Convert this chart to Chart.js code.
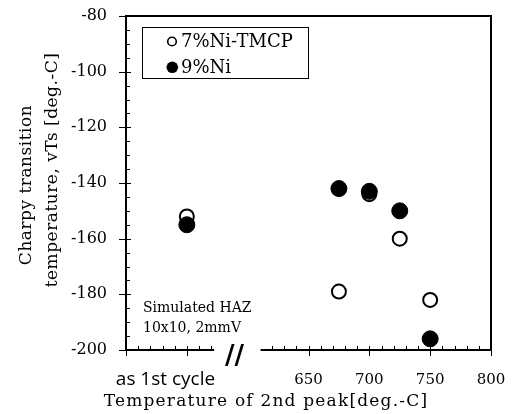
<!DOCTYPE html>
<html>
<head>
<meta charset="utf-8">
<title>vTs vs 2nd peak temperature</title>
<script src="https://cdn.jsdelivr.net/npm/chart.js@4.4.0/dist/chart.umd.min.js"></script>
<style>
  html, body { margin: 0; padding: 0; background: #fff; }
  canvas { display: block; }
</style>
</head>
<body>
<canvas id="vts-chart" width="515" height="414"></canvas>
<script>
// 2nd peak temperature [deg.C]; 550 is the slot used for "as 1st cycle"
var peakTemps = [550, 675, 700, 725, 750];
var vTs7NiTMCP = [-152, -179, -144, -160, -182];
var vTs9Ni = [-155, -142, -143, -150, -196];

var seriesNames = ['7%Ni-TMCP', '9%Ni'];
var xTickLabels = [650, 700, 750, 800];
var firstCycleLabel = 'as 1st cycle';
var yTitleLines = ['Charpy transition', 'temperature, vTs [deg.-C]'];
var xTitle = 'Temperature of 2nd peak[deg.-C]';
var noteLines = ['Simulated HAZ', '10x10, 2mmV'];

// the x axis is cut between these two values
var breakFrom = 572.5;
var breakTo = 610.6;

var SERIF = "'DejaVu Serif', serif";

function putText(ctx, text, x, y, font, align, spacing) {
	ctx.font = font;
	ctx.letterSpacing = (spacing || 0) + 'px';
	ctx.textAlign = align || 'left';
	ctx.textBaseline = 'alphabetic';
	ctx.fillText(text, x, y);
}

// frame, broken x axis and tick marks
var axesFrame = {
	id: 'axesFrame',
	beforeDatasetsDraw: function(chart) {
		var ctx = chart.ctx;
		var a = chart.chartArea;
		var x = chart.scales.x;
		var y = chart.scales.y;
		var b1 = x.getPixelForValue(breakFrom);
		var b2 = x.getPixelForValue(breakTo);

		ctx.save();
		ctx.strokeStyle = '#000';
		ctx.lineWidth = 2;
		ctx.beginPath();
		ctx.moveTo(a.left, a.bottom);
		ctx.lineTo(a.left, a.top);
		ctx.lineTo(a.right, a.top);
		ctx.lineTo(a.right, a.bottom);
		ctx.moveTo(a.left, a.bottom);
		ctx.lineTo(b1, a.bottom);
		ctx.moveTo(b2, a.bottom);
		ctx.lineTo(a.right, a.bottom);
		ctx.stroke();

		ctx.lineWidth = 1;
		ctx.beginPath();
		for (var v = -200; v <= -80; v += 5) {
			var py = Math.round(y.getPixelForValue(v)) + 0.5;
			if (v % 20 === 0) {
				ctx.moveTo(a.left - 7, py);
				ctx.lineTo(a.left + 5, py);
			} else {
				ctx.moveTo(a.left, py);
				ctx.lineTo(a.left + 4, py);
			}
		}
		for (var t = 500; t <= 800; t += 10) {
			if (t > breakFrom && t < breakTo) continue;
			var px = Math.round(x.getPixelForValue(t)) + 0.5;
			if (t % 50 === 0) {
				ctx.moveTo(px, a.bottom - 4);
				ctx.lineTo(px, a.bottom + 6);
			} else {
				ctx.moveTo(px, a.bottom);
				ctx.lineTo(px, a.bottom - 4);
			}
		}
		ctx.stroke();
		ctx.restore();
	},
	afterDraw: function(chart) {
		var ctx = chart.ctx;
		ctx.save();
		ctx.fillStyle = '#000';

		// break mark
		putText(ctx, '//', 225, 364, "bold 26px 'DejaVu Sans'", 'left');

		// category label under the 1st cycle point
		putText(ctx, firstCycleLabel, 165.5, 385, "19px 'Open Sans'", 'center');

		// axis titles
		putText(ctx, xTitle, 266, 406, '17px ' + SERIF, 'center', 1.2);
		var yCenters = [[27, 185], [53, 170]];
		for (var i = 0; i < yTitleLines.length; i++) {
			ctx.save();
			ctx.translate(yCenters[i][0], yCenters[i][1]);
			ctx.rotate(-Math.PI / 2);
			ctx.font = '17px ' + SERIF;
			ctx.letterSpacing = '0.5px';
			ctx.textAlign = 'center';
			ctx.textBaseline = 'middle';
			ctx.fillText(yTitleLines[i], 0, 0);
			ctx.restore();
		}

		// test condition note
		putText(ctx, noteLines[0], 143, 312, '14px ' + SERIF, 'left');
		putText(ctx, noteLines[1], 143, 331.5, '14px ' + SERIF, 'left');

		// legend box
		ctx.strokeStyle = '#000';
		ctx.lineWidth = 1;
		ctx.strokeRect(142.5, 27.5, 166, 51);
		ctx.beginPath();
		ctx.arc(172, 41.5, 4.3, 0, Math.PI * 2);
		ctx.lineWidth = 1.6;
		ctx.stroke();
		ctx.beginPath();
		ctx.arc(172.3, 67.3, 5.8, 0, Math.PI * 2);
		ctx.fill();
		putText(ctx, seriesNames[0], 181, 47, '18px ' + SERIF, 'left');
		putText(ctx, seriesNames[1], 181, 73, '18px ' + SERIF, 'left');

		ctx.restore();
	}
};

function makePoints(values) {
	return peakTemps.map(function(t, i) {
		return { x: t, y: values[i] };
	});
}

var ctx = document.getElementById('vts-chart').getContext('2d');

var chart = new Chart(ctx, {
	type: 'scatter',
	data: {
		datasets: [{
			label: seriesNames[0],
			data: makePoints(vTs7NiTMCP),
			pointRadius: 7,
			pointBorderWidth: 2,
			pointBackgroundColor: '#fff',
			pointBorderColor: '#000',
			order: 1
		}, {
			label: seriesNames[1],
			data: makePoints(vTs9Ni),
			pointRadius: 8,
			pointBorderWidth: 1,
			pointBackgroundColor: '#000',
			pointBorderColor: '#000',
			order: 0
		}]
	},
	options: {
		responsive: false,
		devicePixelRatio: 1,
		animation: false,
		layout: { padding: { left: 0, top: 16, right: 24, bottom: 0 } },
		plugins: {
			legend: { display: false },
			tooltip: { enabled: false }
		},
		scales: {
			x: {
				type: 'linear',
				min: 500,
				max: 800,
				grid: { display: false, drawTicks: false },
				border: { display: false },
				afterFit: function(scale) {
					scale.height = 64;
					scale.paddingLeft = 0;
					scale.paddingRight = 0;
				},
				ticks: {
					stepSize: 50,
					autoSkip: false,
					maxRotation: 0,
					padding: 21,
					color: '#000',
					font: { family: SERIF, size: 15 },
					callback: function(value) {
						return xTickLabels.indexOf(value) >= 0 ? String(value) : '';
					}
				}
			},
			y: {
				min: -200,
				max: -80,
				grid: { display: false, drawTicks: false },
				border: { display: false },
				afterFit: function(scale) {
					scale.width = 126;
					scale.paddingTop = 0;
					scale.paddingBottom = 0;
				},
				ticks: {
					stepSize: 20,
					padding: 19,
					color: '#000',
					font: { family: SERIF, size: 16 }
				}
			}
		}
	},
	plugins: [axesFrame]
});
</script>
</body>
</html>
